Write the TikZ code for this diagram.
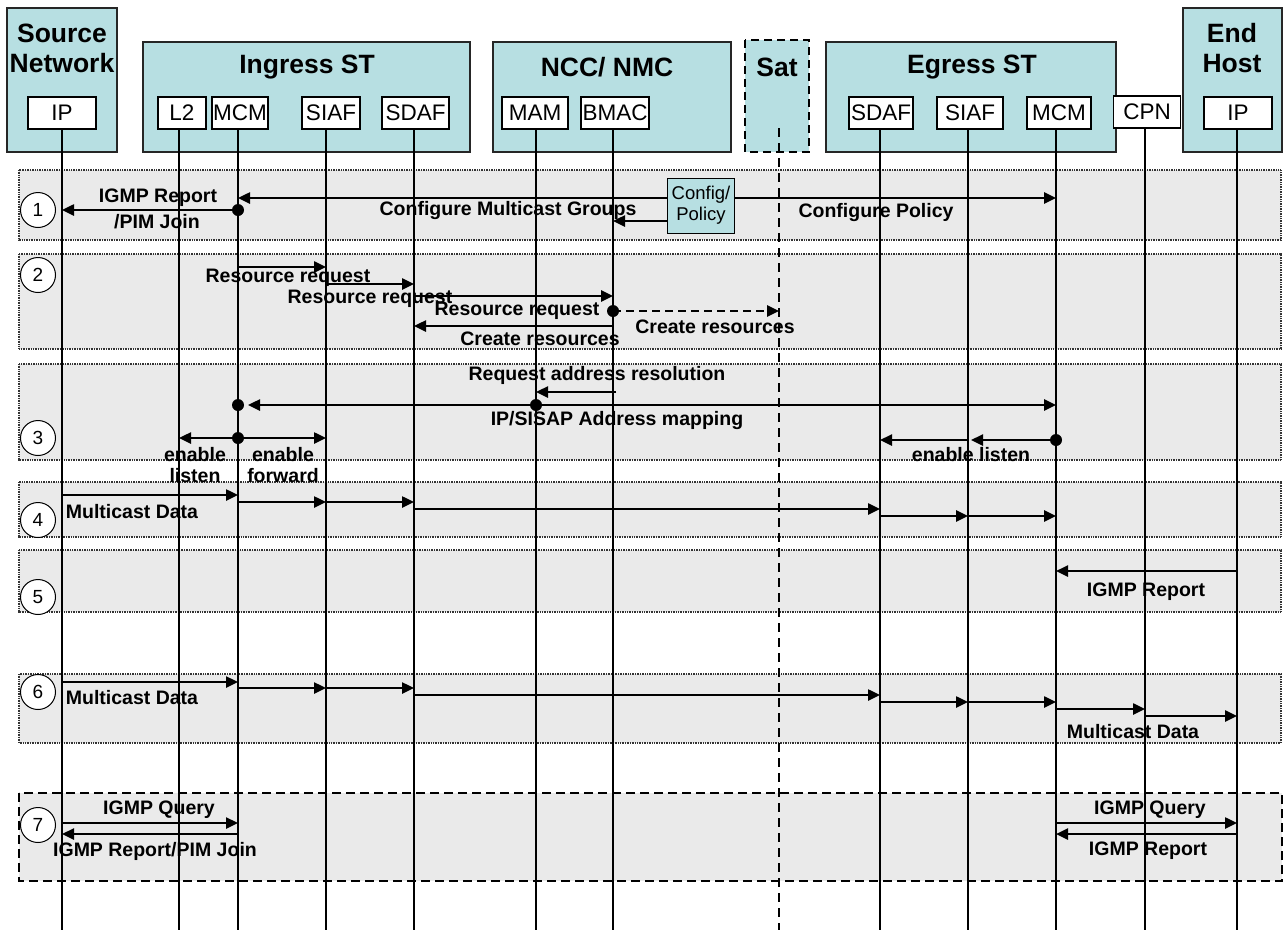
\documentclass[tikz,border=0pt]{standalone}
\usepackage{fontspec}
\setmainfont{Liberation Sans}
\usetikzlibrary{arrows.meta,calc}
\definecolor{boxfill}{HTML}{B7DFE2}
\definecolor{phasefill}{HTML}{EAEAEA}
\tikzset{
 big/.style={draw=black!85, line width=1.4pt, fill=boxfill},
 sub/.style={draw=black, line width=1.2pt, fill=white, minimum height=32pt, inner sep=0pt, font=\fontsize{22.5}{25}\selectfont},
 ttl/.style={font=\bfseries\fontsize{26.5}{30}\selectfont, inner sep=0pt, align=center},
 life/.style={line width=1.3pt},
 phase/.style={draw=black!80, line width=2pt, dash pattern=on 1pt off 0.7pt, fill=phasefill},
 phasedash/.style={draw=black, line width=2pt, dash pattern=on 9pt off 5pt, fill=phasefill},
 msg/.style={line width=2.5pt, -{Triangle[length=12pt,width=11pt]}},
 lbl/.style={font=\bfseries\fontsize{19.5}{21}\selectfont, inner sep=0pt},
 num/.style={circle, draw, line width=1pt, fill=white, minimum size=35pt, inner sep=0pt, font=\fontsize{19}{21}\selectfont},
 dot/.style={circle, fill=black, inner sep=0pt, minimum size=12pt},
}
\begin{document}
\begin{tikzpicture}[x=1pt,y=-1pt]
\useasboundingbox (0,0) rectangle (1284,930);
% phase boxes
\path[phase] (19,170) rectangle (1281,240);
\path[phase] (19,254) rectangle (1281,349);
\path[phase] (19,364) rectangle (1281,460);
\path[phase] (19,482) rectangle (1281,537);
\path[phase] (19,550) rectangle (1281,612);
\path[phase] (19,674) rectangle (1281,743);
\path[phasedash] (19,793) rectangle (1282,881);
\node[num] (n1) at (38,210) {1};
\node[num] (n2) at (38,275) {2};
\node[num] (n3) at (38,438) {3};
\node[num] (n4) at (38,520) {4};
\node[num] (n5) at (38,597) {5};
\node[num] (n6) at (38,692) {6};
\node[num] (n7) at (38,825) {7};
% header boxes
\path[big] (7,8) rectangle (117,152);
\path[big] (143,42) rectangle (470,152);
\path[big] (493,42) rectangle (731,152);
\path[draw=black, line width=2pt, dash pattern=on 8pt off 5pt, fill=boxfill] (745,40) rectangle (809,152);
\path[big] (826,42) rectangle (1116,152);
\path[big] (1183,8) rectangle (1282,152);
\node[ttl] (tsrc) at (62,48) {Source\\Network};
\node[ttl] (ting) at (307,67) {Ingress ST};
\node[ttl] (tncc) at (607,67) {NCC/ NMC};
\node[ttl] (tsat) at (777,67) {Sat};
\node[ttl] (tegr) at (972,67) {Egress ST};
\node[ttl] (tend) at (1232,48) {End\\Host};
% sub boxes
\node[sub, minimum width=68pt] (ipS) at (62,113) {IP};
\node[sub, minimum width=48pt] (l2) at (182,113) {L2};
\node[sub, minimum width=56pt] (mcmI) at (240,113) {MCM};
\node[sub, minimum width=58pt] (siafI) at (331,113) {SIAF};
\node[sub, minimum width=67pt] (sdafI) at (415.5,113) {SDAF};
\node[sub, minimum width=66pt] (mam) at (535,113) {MAM};
\node[sub, minimum width=68pt] (bmac) at (615,113) {BMAC};
\node[sub, minimum width=64pt] (sdafE) at (881,113) {SDAF};
\node[sub, minimum width=66pt] (siafE) at (970,113) {SIAF};
\node[sub, minimum width=64pt] (mcmE) at (1059,113) {MCM};
\node[sub, minimum width=67pt] (cpn) at (1147,112) {CPN};
\node[sub, minimum width=68pt] (ipE) at (1238,113) {IP};
% lifeline heads
\coordinate (pIP) at (62,129);
\coordinate (pL2) at (179,129);
\coordinate (pMCMi) at (238,129);
\coordinate (pSIAFi) at (326,129);
\coordinate (pSDAFi) at (414,129);
\coordinate (pMAM) at (536,129);
\coordinate (pBMAC) at (613,129);
\coordinate (pSat) at (779,128);
\coordinate (pSDAFe) at (880,129);
\coordinate (pSIAFe) at (968,129);
\coordinate (pMCMe) at (1056,129);
\coordinate (pCPN) at (1145,128);
\coordinate (pIPe) at (1237,129);
\foreach \n in {pIP,pL2,pMCMi,pSIAFi,pSDAFi,pMAM,pBMAC,pSDAFe,pSIAFe,pMCMe,pCPN,pIPe}
  \draw[life] (\n) -- (\n |- 0,930);
\draw[line width=1.6pt, dash pattern=on 9pt off 6pt] (pSat) -- (pSat |- 0,930);
% phase 1
\node[draw=black, line width=1pt, fill=boxfill, minimum width=67pt, minimum height=55pt, align=center, font=\fontsize{18.5}{21}\selectfont, inner sep=0pt] (cfg) at (701,205.5) {Config/\\Policy};
\node[dot] (d1) at (pMCMi |- 0,210) {};
\draw[msg] (d1.center) -- (pIP |- 0,210);
\draw[msg] (cfg.west |- 0,198) -- (pMCMi |- 0,198);
\draw[msg] (cfg.west |- 0,221) -- (pBMAC |- 0,221);
\draw[msg] (cfg.east |- 0,198) -- (pMCMe |- 0,198);
\node[lbl] (l1a) at (158,198) {IGMP Report};
\node[lbl] (l1b) at (157,222) {/PIM Join};
\node[lbl] (l1c) at (508,210) {Configure Multicast Groups};
\node[lbl] (l1d) at (876,212) {Configure Policy};
% phase 2
\draw[msg] (pMCMi |- 0,267) -- (pSIAFi |- 0,267);
\draw[msg] (pSIAFi |- 0,284) -- (pSDAFi |- 0,284);
\draw[msg] (pSDAFi |- 0,296) -- (pBMAC |- 0,296);
\node[dot] (d2) at (pBMAC |- 0,311) {};
\draw[msg, dash pattern=on 8pt off 5pt] (d2.center) -- (pSat |- 0,311);
\draw[msg] (pBMAC |- 0,326) -- (pSDAFi |- 0,326);
\node[lbl] (l2a) at (288,278) {Resource request};
\node[lbl] (l2b) at (370,299) {Resource request};
\node[lbl] (l2c) at (517,311) {Resource request};
\node[lbl] (l2d) at (715,327) {Create resources};
\node[lbl] (l2e) at (540,339) {Create resources};
% phase 3
\node[lbl] (l3a) at (597,375) {Request address resolution};
\draw[msg] ($(pBMAC |- 0,392)+(3,0)$) -- (pMAM |- 0,392);
\node[dot] (d3a) at (pMAM |- 0,405) {};
\node[dot] (d3b) at (pMCMi |- 0,405) {};
\draw[msg] (d3a.center) -- ($(d3b.center)+(10,0)$);
\draw[msg] (d3a.center) -- (pMCMe |- 0,405);
\node[lbl] (l3b) at (617,420) {IP/SISAP Address mapping};
\node[dot] (d3c) at (pMCMi |- 0,438) {};
\draw[msg] (d3c.center) -- (pL2 |- 0,438);
\draw[msg] (d3c.center) -- (pSIAFi |- 0,438);
\node[lbl] (l3c) at (195,455) {enable};
\node[lbl] (l3d) at (195,476) {listen};
\node[lbl] (l3e) at (283,455) {enable};
\node[lbl] (l3f) at (283,476) {forward};
\node[dot] (d3d) at (pMCMe |- 0,440) {};
\draw[msg] (d3d.center) -- ($(pSIAFe |- 0,440)+(3,0)$);
\draw[msg] (pSIAFe |- 0,440) -- (pSDAFe |- 0,440);
\node[lbl] (l3g) at (971,455) {enable listen};
% phase 4
\draw[msg] (pIP |- 0,495) -- (pMCMi |- 0,495);
\draw[msg] (pMCMi |- 0,502) -- (pSIAFi |- 0,502);
\draw[msg] (pSIAFi |- 0,502) -- (pSDAFi |- 0,502);
\draw[msg] (pSDAFi |- 0,509) -- (pSDAFe |- 0,509);
\draw[msg] (pSDAFe |- 0,516) -- (pSIAFe |- 0,516);
\draw[msg] (pSIAFe |- 0,516) -- (pMCMe |- 0,516);
\node[lbl] (l4a) at (132,512) {Multicast Data};
% phase 5
\draw[msg] (pIPe |- 0,571) -- (pMCMe |- 0,571);
\node[lbl] (l5a) at (1146,592) {IGMP Report};
% phase 6
\draw[msg] (pIP |- 0,682) -- (pMCMi |- 0,682);
\draw[msg] (pMCMi |- 0,688) -- (pSIAFi |- 0,688);
\draw[msg] (pSIAFi |- 0,688) -- (pSDAFi |- 0,688);
\draw[msg] (pSDAFi |- 0,695) -- (pSDAFe |- 0,695);
\draw[msg] (pSDAFe |- 0,702) -- (pSIAFe |- 0,702);
\draw[msg] (pSIAFe |- 0,702) -- (pMCMe |- 0,702);
\draw[msg] (pMCMe |- 0,709) -- (pCPN |- 0,709);
\draw[msg] (pCPN |- 0,716) -- (pIPe |- 0,716);
\node[lbl] (l6a) at (132,698) {Multicast Data};
\node[lbl] (l6b) at (1133,732) {Multicast Data};
% phase 7
\draw[msg] (pIP |- 0,823) -- (pMCMi |- 0,823);
\draw[msg] (pMCMi |- 0,834) -- (pIP |- 0,834);
\draw[msg] (pMCMe |- 0,823) -- (pIPe |- 0,823);
\draw[msg] (pIPe |- 0,834) -- (pMCMe |- 0,834);
\node[lbl] (l7a) at (159,810) {IGMP Query};
\node[lbl] (l7b) at (155,851) {IGMP Report/PIM Join};
\node[lbl] (l7c) at (1150,810) {IGMP Query};
\node[lbl] (l7d) at (1148,851) {IGMP Report};
\end{tikzpicture}
\end{document}
